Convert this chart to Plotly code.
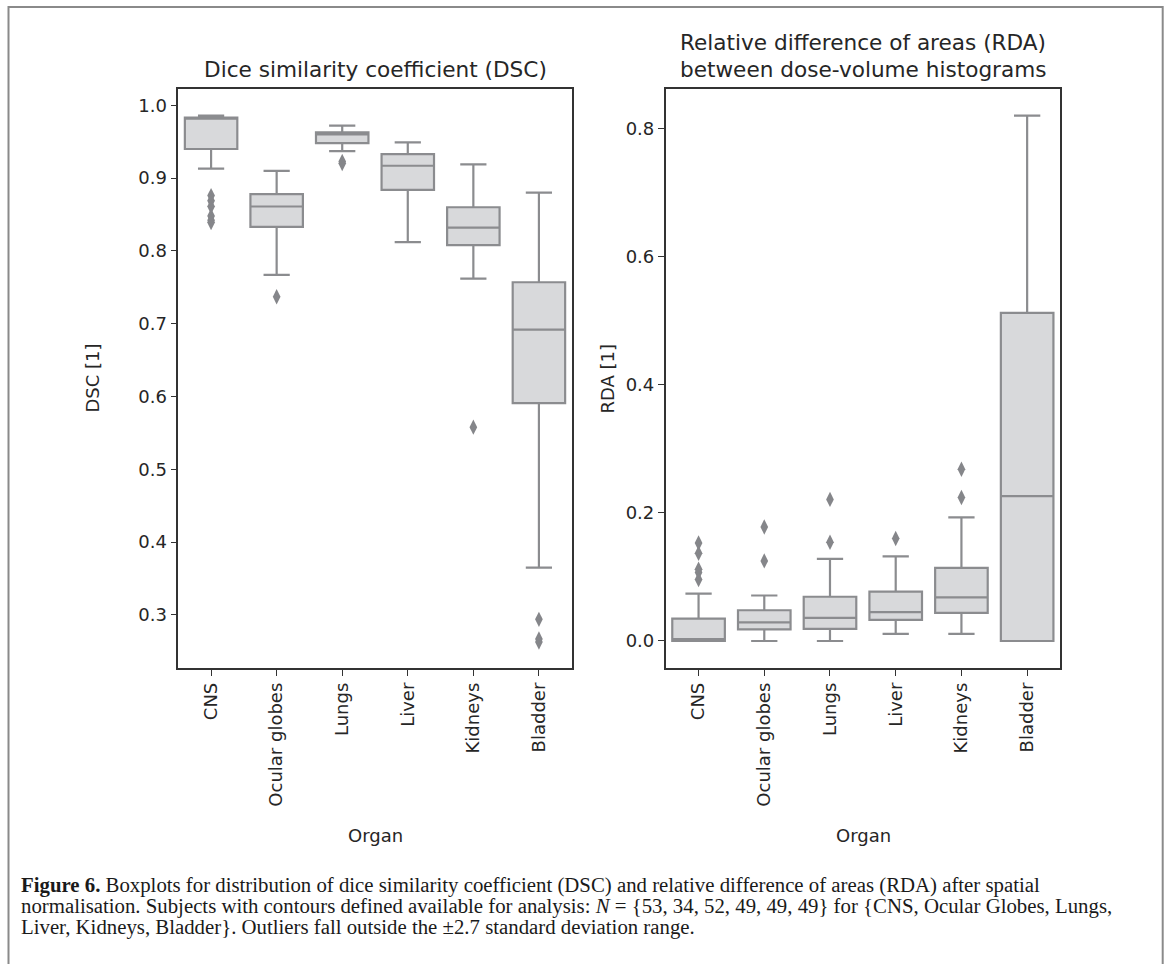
import plotly.graph_objects as go

organs = ["CNS", "Ocular globes", "Lungs", "Liver", "Kidneys", "Bladder"]

# DSC statistics
dsc_low = [0.913, 0.767, 0.937, 0.812, 0.762, 0.365]
dsc_q1 = [0.940, 0.833, 0.948, 0.884, 0.808, 0.591]
dsc_med = [0.982, 0.861, 0.960, 0.917, 0.832, 0.692]
dsc_q3 = [0.983, 0.878, 0.963, 0.933, 0.860, 0.757]
dsc_high = [0.986, 0.910, 0.972, 0.949, 0.919, 0.880]
dsc_out = [
    [0.876, 0.869, 0.861, 0.848, 0.842, 0.839],
    [0.737],
    [0.923, 0.920],
    [],
    [0.558],
    [0.294, 0.267, 0.263],
]

# RDA statistics
rda_low = [0.000, 0.000, 0.000, 0.011, 0.011, 0.000]
rda_q1 = [0.000, 0.018, 0.019, 0.033, 0.044, 0.000]
rda_med = [0.003, 0.029, 0.036, 0.045, 0.068, 0.226]
rda_q3 = [0.035, 0.048, 0.069, 0.077, 0.114, 0.512]
rda_high = [0.074, 0.071, 0.128, 0.132, 0.193, 0.820]
rda_out = [
    [0.153, 0.137, 0.112, 0.107, 0.096],
    [0.178, 0.125],
    [0.221, 0.154],
    [0.160],
    [0.268, 0.224],
    [],
]

W, H = 1171, 964
FILL = "#d8d9db"
LINE = "#8b8c8f"
DOT = "#85868a"
TXT = "#262626"
AX = "#333333"
SANS = "DejaVu Sans"

fig = go.Figure()

def add_panel(xa, ya, low, q1, med, q3, high, outs):
    fig.add_trace(go.Box(
        x=organs, q1=q1, median=med, q3=q3, lowerfence=low, upperfence=high,
        xaxis=xa, yaxis=ya, width=0.8, whiskerwidth=0.5,
        fillcolor=FILL, line=dict(color=LINE, width=2.2), boxpoints=False,
        showlegend=False, hoverinfo="skip"))
    xs, ys = [], []
    for o, vals in zip(organs, outs):
        xs += [o] * len(vals)
        ys += vals
    fig.add_trace(go.Scatter(
        x=xs, y=ys, mode="markers", xaxis=xa, yaxis=ya,
        marker=dict(symbol="diamond-tall", size=11, color=DOT, line=dict(width=0)),
        showlegend=False, hoverinfo="skip"))

add_panel("x", "y", dsc_low, dsc_q1, dsc_med, dsc_q3, dsc_high, dsc_out)
add_panel("x2", "y2", rda_low, rda_q1, rda_med, rda_q3, rda_high, rda_out)

def px_x(p):
    return p / W

def px_y(p):
    return 1 - p / H

axis_common = dict(
    showline=True, mirror=True, linecolor=AX, linewidth=1.6,
    ticks="outside", ticklen=6, tickwidth=1.3, tickcolor=AX,
    showgrid=False, zeroline=False,
    tickfont=dict(family=SANS, size=18, color=TXT),
)

x_dom1 = [px_x(178.3), px_x(571.7)]
x_dom2 = [px_x(665.7), px_x(1060)]
y_dom = [px_y(667.7), px_y(89.3)]

fig.update_layout(
    width=W, height=H,
    margin=dict(l=0, r=0, t=0, b=0),
    paper_bgcolor="white", plot_bgcolor="white",
    xaxis=dict(domain=x_dom1, anchor="y", type="category", categoryorder="array",
               categoryarray=organs, range=[-0.5, 5.5], tickangle=-90, **axis_common),
    yaxis=dict(domain=y_dom, anchor="x", range=[0.2276, 1.022],
               tickvals=[0.3, 0.4, 0.5, 0.6, 0.7, 0.8, 0.9, 1.0],
               ticktext=["0.3", "0.4", "0.5", "0.6", "0.7", "0.8", "0.9", "1.0"],
               **axis_common),
    xaxis2=dict(domain=x_dom2, anchor="y2", type="category", categoryorder="array",
                categoryarray=organs, range=[-0.5, 5.5], tickangle=-90, **axis_common),
    yaxis2=dict(domain=y_dom, anchor="x2", range=[-0.0417, 0.861],
                tickvals=[0.0, 0.2, 0.4, 0.6, 0.8],
                ticktext=["0.0", "0.2", "0.4", "0.6", "0.8"],
                **axis_common),
)

def ann(text, x, y, size, rot=0, xanchor="center", family=SANS, color=TXT):
    fig.add_annotation(text=text, x=px_x(x), y=px_y(y), xref="paper", yref="paper",
                       showarrow=False, xanchor=xanchor, yanchor="middle",
                       textangle=rot, font=dict(family=family, size=size, color=color))

# panel titles
ann("Dice similarity coefficient (DSC)", 375, 70, 21.6)
ann("Relative difference of areas (RDA)", 863, 43, 21.6)
ann("between dose-volume histograms", 863, 70, 21.6)
# axis titles
ann("DSC [1]", 92, 378.5, 18, rot=-90)
ann("RDA [1]", 607, 378.5, 18, rot=-90)
ann("Organ", 375, 835, 18)
ann("Organ", 863, 835, 18)

# caption
SERIF = "Liberation Serif"
cap = [
    "<b>Figure 6.</b> Boxplots for distribution of dice similarity coefficient (DSC) and relative difference of areas (RDA) after spatial",
    "normalisation. Subjects with contours defined available for analysis: <i>N</i> = {53, 34, 52, 49, 49, 49} for {CNS, Ocular Globes, Lungs,",
    "Liver, Kidneys, Bladder}. Outliers fall outside the \u00b12.7 standard deviation range.",
]
for i, line in enumerate(cap):
    ann(line, 19, 885 + 20.8 * i, 20.8, xanchor="left", family=SERIF, color="#1a1a1a")

# outer frame
fig.add_shape(type="rect", xref="paper", yref="paper",
              x0=px_x(8.5), x1=px_x(1162.7), y0=-0.2, y1=px_y(7),
              line=dict(color="#8a8a8a", width=2), fillcolor="rgba(0,0,0,0)", layer="above")

fig.write_html("out.html", config={"displayModeBar": False})
